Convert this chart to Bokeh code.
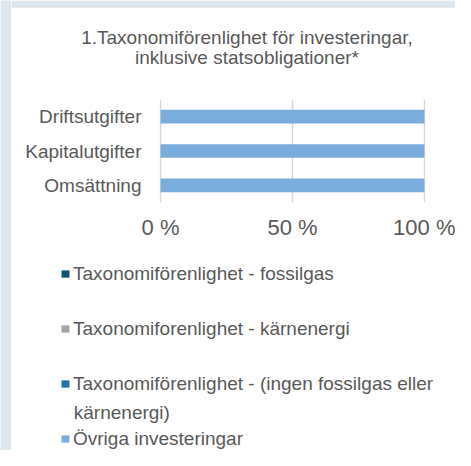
from bokeh.plotting import figure
from bokeh.layouts import row, column
from bokeh.models import (FactorRange, Range1d, FixedTicker, PrintfTickFormatter,
                          Legend, LegendItem, Label, ColumnDataSource, BoxAnnotation)
from bokeh.embed import file_html
from bokeh.resources import INLINE

# ---- data ----
categories = ["Omsättning", "Kapitalutgifter", "Driftsutgifter"]
series_keys = ["fossilgas", "karnenergi", "ingen", "ovriga"]
series_names = ["Taxonomiförenlighet - fossilgas",
                "Taxonomiforenlighet - kärnenergi",
                "Taxonomiförenlighet - (ingen fossilgas eller kärnenergi)",
                "Övriga investeringar"]
fossilgas = [0, 0, 0]
karnenergi = [0, 0, 0]
ingen = [0, 0, 0]
ovriga = [100, 100, 100]
x_ticks = [0, 50, 100]
title_lines = ["1.Taxonomiförenlighet för investeringar,", "inklusive statsobligationer*"]
# the third legend entry wraps onto a second line in the original
legend_first_lines = ["Taxonomiförenlighet - fossilgas",
                      "Taxonomiforenlighet - kärnenergi",
                      "Taxonomiförenlighet - (ingen fossilgas eller",
                      "Övriga investeringar"]
legend_wrap_line = "kärnenergi)"

# ---- style ----
colors = ["#0d5271", "#a5a5a5", "#1b75a9", "#7aacdc"]
FONT = "Liberation Sans"
TXT = "#595959"
BLUE = "#dce8ee"
EDGE = "#d6d6d6"
GRID = "#d9d9d9"

source = ColumnDataSource(dict(y=categories, fossilgas=fossilgas, karnenergi=karnenergi,
                               ingen=ingen, ovriga=ovriga))


def bare(width, height, x_range, y_range, bg="white"):
    f = figure(width=width, height=height, x_range=x_range, y_range=y_range,
               x_axis_type=None, y_axis_type=None, title=None,
               output_backend="svg", toolbar_location=None, min_border=0)
    f.grid.visible = False
    f.outline_line_color = None
    f.background_fill_color = bg
    f.border_fill_color = bg
    f.frame_align = False
    return f


# left frame strip of the page
strip = bare(11, 450, Range1d(0, 11), Range1d(0, 450), bg=BLUE)
strip.add_layout(BoxAnnotation(left=10, right=11, bottom=0, top=444,
                               fill_color=EDGE, fill_alpha=1, line_color=None))

# title
tfig = bare(444, 99, Range1d(11, 455), Range1d(0, 99))
tfig.add_layout(BoxAnnotation(left=11, right=455, bottom=93, top=99,
                              fill_color=BLUE, fill_alpha=1, line_color=None))
tfig.add_layout(BoxAnnotation(left=11, right=455, bottom=92, top=93,
                              fill_color=EDGE, fill_alpha=1, line_color=None))
for i, line in enumerate(title_lines):
    tfig.add_layout(Label(x=246.5, y=62 - 19.5 * i, text=line,
                          text_font=FONT, text_font_size="19px", text_color=TXT,
                          text_align="center", text_baseline="alphabetic"))

# main chart
p = figure(width=444, height=146, y_range=FactorRange(*categories), x_range=Range1d(-0.4, 100.4),
           output_backend="svg", toolbar_location=None, title=None,
           min_border_left=148, min_border_right=30, min_border_top=0, min_border_bottom=43)
p.frame_align = False
p.outline_line_color = None
renderers = p.hbar_stack(series_keys, y="y", height=0.4, source=source,
                         fill_color=colors, line_color=None)

p.yaxis.axis_line_color = None
p.yaxis.major_tick_line_color = None
p.yaxis.minor_tick_line_color = None
p.yaxis.major_tick_out = 0
p.yaxis.major_tick_in = 0
p.yaxis.major_label_standoff = 18
p.yaxis.major_label_text_font = FONT
p.yaxis.major_label_text_font_size = "19px"
p.yaxis.major_label_text_color = TXT

p.xaxis.ticker = FixedTicker(ticks=x_ticks)
p.xaxis.formatter = PrintfTickFormatter(format="%d %%")
p.xaxis.axis_line_color = None
p.xaxis.major_tick_line_color = None
p.xaxis.minor_tick_line_color = None
p.xaxis.major_tick_out = 0
p.xaxis.major_tick_in = 0
p.xaxis.major_label_standoff = 12
p.xaxis.major_label_text_font = FONT
p.xaxis.major_label_text_font_size = "22px"
p.xaxis.major_label_text_color = TXT

p.xgrid.grid_line_color = GRID
p.xgrid.grid_line_width = 1.5
p.ygrid.grid_line_color = None

# legend: swatches come from the same stacked series (hidden in this panel)
lfig = bare(444, 205, Range1d(0, 100), FactorRange(*categories))
lrenderers = lfig.hbar_stack(series_keys, y="y", height=0.4, source=source,
                             fill_color=colors, line_color=None)
for r in lrenderers:
    r.visible = False
items = [LegendItem(label=lab, renderers=[r]) for lab, r in zip(legend_first_lines, lrenderers)]
legend = Legend(items=items, location=(49, 0.5), orientation="vertical",
                border_line_color=None, background_fill_alpha=0, padding=0, margin=0,
                spacing=33, label_height=22, glyph_width=10, glyph_height=9,
                label_standoff=3, label_text_font=FONT, label_text_font_size="19px",
                label_text_color=TXT, inactive_fill_alpha=0)
lfig.add_layout(legend)
lfig.add_layout(Label(x=62.3, y=37.8, x_units="screen", y_units="screen", text=legend_wrap_line,
                      text_font=FONT, text_font_size="19px", text_color=TXT,
                      text_baseline="alphabetic"))

layout = row(strip, column(tfig, p, lfig))
open("out.html", "w").write(file_html(layout, INLINE))
